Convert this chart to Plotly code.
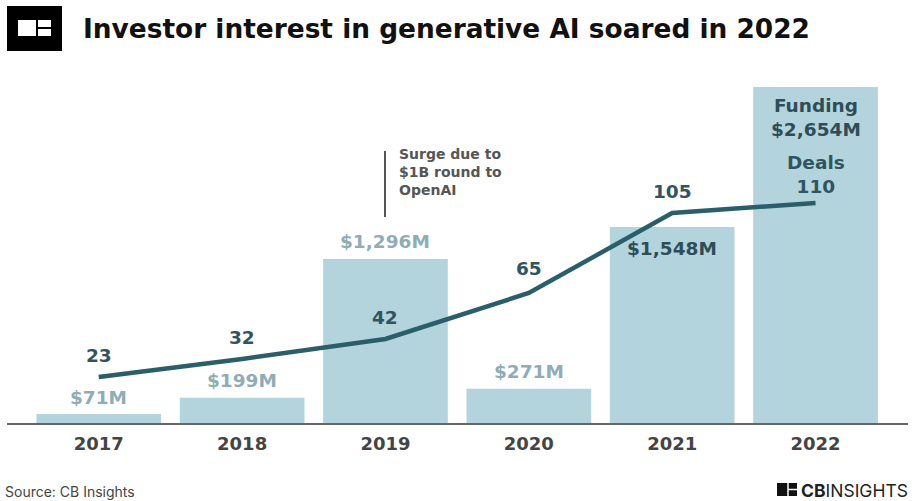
import plotly.graph_objects as go

# Generative AI funding and deal counts by year
years = ["2017", "2018", "2019", "2020", "2021", "2022"]
funding_musd = [71, 199, 1296, 271, 1548, 2654]
deals = [23, 32, 42, 65, 105, 110]
funding_text = ["$71M", "$199M", "$1,296M", "$271M", "$1,548M", "Funding<br>$2,654M"]
deals_text = ["23", "32", "42", "65", "105", "Deals<br>110"]

W, H = 914, 501
ML, MR, MT, MB = 7, 6, 60, 78
PW, PH = W - ML - MR, H - MT - MB


def px(x):
    return (x - ML) / PW


def py(y):
    return (H - MB - y) / PH


BOLD = "DejaVu Sans, Verdana, sans-serif"
FONT = "Inter, Roboto, Arial, sans-serif"
BAR = "#b3d4dc"
LINE = "#2a5e69"
LIGHT_LBL = "#8eadb6"
DARK_LBL = "#2f4d58"
DEAL_LBL = "#2f5562"

fig = go.Figure()
fig.add_trace(go.Bar(x=years, y=funding_musd, marker=dict(color=BAR, line=dict(width=0)),
                     yaxis="y", hoverinfo="skip"))
fig.add_trace(go.Scatter(x=years, y=deals, mode="lines", yaxis="y2",
                         line=dict(color=LINE, width=4.5), hoverinfo="skip"))

ann = []
# funding labels: above the short bars, inside the tall ones
# (category axis positions are given as the category index)
for i, (v, t) in enumerate(zip(funding_musd, funding_text)):
    if i < 4:
        shift, col = 17, LIGHT_LBL
    elif i == 4:
        shift, col = -21, DARK_LBL
    else:
        shift, col = -30, DARK_LBL
    ann.append(dict(x=i, y=v, xref="x", yref="y", text=t, showarrow=False,
                    yshift=shift, font=dict(family=BOLD, size=18.5, color=col, weight=700)))

# deal count labels above the line
for i, (v, t) in enumerate(zip(deals, deals_text)):
    shift = 29 if i == 5 else (25 if i == 3 else 22)
    ann.append(dict(x=i, y=v, xref="x", yref="y2", text=t, showarrow=False,
                    yshift=shift, font=dict(family=BOLD, size=18.5, color=DEAL_LBL, weight=700)))

# callout for the 2019 surge
ann.append(dict(x=px(397), y=py(172), xref="paper", yref="paper", xanchor="left", yanchor="middle",
                align="left", showarrow=False,
                text="Surge due to<br>$1B round to<br>OpenAI",
                font=dict(family=BOLD, size=14, color="#555555", weight=700)))

# title
ann.append(dict(x=px(81), y=py(29), xref="paper", yref="paper", xanchor="left", yanchor="middle",
                showarrow=False, text="Investor interest in generative AI soared in 2022",
                font=dict(family=BOLD, size=26.4, color="#111111", weight=700)))

# footer
ann.append(dict(x=px(3), y=py(491), xref="paper", yref="paper", xanchor="left", yanchor="middle",
                showarrow=False, text="Source: CB Insights",
                font=dict(family=FONT, size=14, color="#444444")))
ann.append(dict(x=px(799), y=py(490), xref="paper", yref="paper", xanchor="left", yanchor="middle",
                showarrow=False, text="<b>CB</b>INSIGHTS",
                font=dict(family=FONT, size=17.5, color="#222222")))

shapes = [
    # callout rule
    dict(type="line", xref="paper", yref="paper", x0=px(385), x1=px(385), y0=py(151), y1=py(217),
         line=dict(color="#555555", width=2)),
    # header logo
    dict(type="rect", xref="paper", yref="paper", x0=px(7), x1=px(62), y0=py(51), y1=py(6),
         fillcolor="#000000", line=dict(width=0)),
    dict(type="rect", xref="paper", yref="paper", x0=px(18), x1=px(51), y0=py(36), y1=py(20),
         fillcolor="#ffffff", line=dict(width=0)),
    dict(type="line", xref="paper", yref="paper", x0=px(37), x1=px(37), y0=py(36), y1=py(20),
         line=dict(color="#000000", width=2)),
    dict(type="line", xref="paper", yref="paper", x0=px(37), x1=px(51), y0=py(28), y1=py(28),
         line=dict(color="#000000", width=2)),
    # footer logo icon
    dict(type="rect", xref="paper", yref="paper", x0=px(777), x1=px(797), y0=py(496), y1=py(483),
         fillcolor="#111111", line=dict(width=0)),
    dict(type="line", xref="paper", yref="paper", x0=px(788), x1=px(788), y0=py(496), y1=py(483),
         line=dict(color="#ffffff", width=1.5)),
    dict(type="line", xref="paper", yref="paper", x0=px(788), x1=px(797), y0=py(489.5), y1=py(489.5),
         line=dict(color="#ffffff", width=1.5)),
]

hidden = dict(showticklabels=False, showgrid=False, zeroline=False, showline=False, ticks="")

fig.update_layout(
    width=W, height=H,
    margin=dict(l=ML, r=MR, t=MT, b=MB),
    paper_bgcolor="#ffffff", plot_bgcolor="#ffffff",
    showlegend=False, bargap=0.13,
    font=dict(family=FONT),
    xaxis=dict(type="category", range=[-0.64, 5.645], showline=True, linecolor="#666666",
               linewidth=2, ticks="outside", ticklen=3, tickcolor="rgba(0,0,0,0)",
               showgrid=False, zeroline=False,
               tickfont=dict(family=BOLD, size=18, color="#444444", weight=700)),
    yaxis=dict(range=[0, PH / (336 / 2654)], **hidden),
    yaxis2=dict(range=[0, PH / 2.0], overlaying="y", side="right", **hidden),
    annotations=ann, shapes=shapes,
)

fig.write_html("out.html")
